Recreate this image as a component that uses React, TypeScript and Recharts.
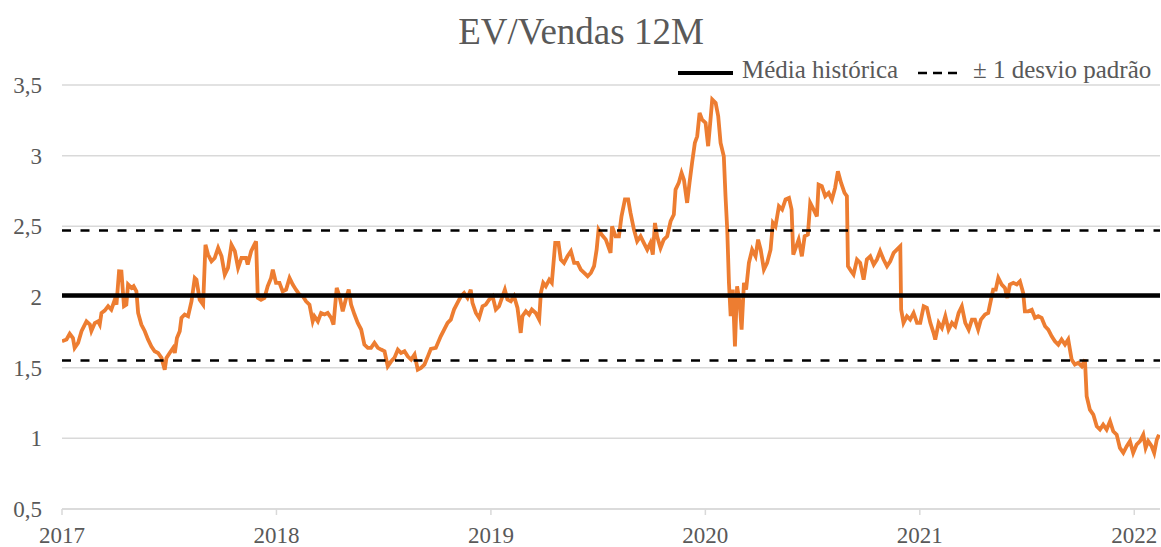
import React from 'react';
import { LineChart, Line, XAxis, YAxis, CartesianGrid, ReferenceLine } from 'recharts';

const anos = [
  2017.000, 2017.021, 2017.036, 2017.051, 2017.059, 2017.075, 2017.091, 2017.114, 2017.130, 2017.137,
  2017.153, 2017.168, 2017.176, 2017.184, 2017.199, 2017.215, 2017.230, 2017.246, 2017.254, 2017.266,
  2017.277, 2017.289, 2017.300, 2017.308, 2017.324, 2017.334, 2017.347, 2017.355, 2017.370, 2017.386,
  2017.401, 2017.417, 2017.432, 2017.448, 2017.464, 2017.479, 2017.487, 2017.502, 2017.518, 2017.526,
  2017.536, 2017.549, 2017.557, 2017.572, 2017.588, 2017.604, 2017.619, 2017.627, 2017.642, 2017.658,
  2017.669, 2017.681, 2017.697, 2017.712, 2017.728, 2017.744, 2017.759, 2017.774, 2017.790, 2017.806,
  2017.821, 2017.837, 2017.858, 2017.866, 2017.882, 2017.897, 2017.905, 2017.913, 2017.928, 2017.944,
  2017.959, 2017.975, 2017.983, 2017.998, 2018.014, 2018.029, 2018.045, 2018.061, 2018.076, 2018.091,
  2018.107, 2018.123, 2018.138, 2018.154, 2018.169, 2018.177, 2018.193, 2018.208, 2018.224, 2018.239,
  2018.255, 2018.266, 2018.281, 2018.294, 2018.309, 2018.325, 2018.337, 2018.348, 2018.364, 2018.379,
  2018.395, 2018.410, 2018.426, 2018.441, 2018.457, 2018.473, 2018.488, 2018.504, 2018.519, 2018.535,
  2018.550, 2018.566, 2018.581, 2018.597, 2018.612, 2018.628, 2018.644, 2018.659, 2018.674, 2018.690,
  2018.706, 2018.720, 2018.743, 2018.766, 2018.782, 2018.798, 2018.813, 2018.828, 2018.844, 2018.860,
  2018.875, 2018.891, 2018.906, 2018.914, 2018.930, 2018.945, 2018.961, 2018.976, 2018.992, 2019.008,
  2019.023, 2019.038, 2019.054, 2019.065, 2019.077, 2019.093, 2019.108, 2019.124, 2019.139, 2019.147,
  2019.163, 2019.178, 2019.191, 2019.209, 2019.225, 2019.233, 2019.244, 2019.256, 2019.272, 2019.284,
  2019.300, 2019.315, 2019.326, 2019.341, 2019.357, 2019.373, 2019.388, 2019.404, 2019.419, 2019.435,
  2019.451, 2019.466, 2019.481, 2019.493, 2019.502, 2019.517, 2019.536, 2019.558, 2019.565, 2019.581,
  2019.597, 2019.609, 2019.625, 2019.640, 2019.651, 2019.667, 2019.682, 2019.698, 2019.713, 2019.729,
  2019.744, 2019.755, 2019.765, 2019.775, 2019.791, 2019.806, 2019.822, 2019.838, 2019.853, 2019.861,
  2019.876, 2019.889, 2019.900, 2019.915, 2019.926, 2019.938, 2019.951, 2019.962, 2019.973, 2019.985,
  2020.001, 2020.013, 2020.024, 2020.032, 2020.048, 2020.060, 2020.071, 2020.086, 2020.094, 2020.102,
  2020.110, 2020.118, 2020.128, 2020.138, 2020.148, 2020.160, 2020.169, 2020.180, 2020.190, 2020.203,
  2020.218, 2020.234, 2020.246, 2020.258, 2020.273, 2020.288, 2020.304, 2020.315, 2020.327, 2020.343,
  2020.358, 2020.374, 2020.390, 2020.402, 2020.410, 2020.435, 2020.450, 2020.463, 2020.478, 2020.489,
  2020.505, 2020.520, 2020.528, 2020.543, 2020.559, 2020.575, 2020.590, 2020.605, 2020.618, 2020.633,
  2020.649, 2020.660, 2020.665, 2020.680, 2020.691, 2020.707, 2020.722, 2020.738, 2020.753, 2020.769,
  2020.785, 2020.800, 2020.815, 2020.831, 2020.847, 2020.862, 2020.878, 2020.893, 2020.909, 2020.913,
  2020.924, 2020.940, 2020.955, 2020.971, 2020.987, 2021.002, 2021.018, 2021.033, 2021.049, 2021.064,
  2021.072, 2021.088, 2021.103, 2021.119, 2021.134, 2021.150, 2021.165, 2021.181, 2021.196, 2021.212,
  2021.228, 2021.243, 2021.257, 2021.272, 2021.285, 2021.304, 2021.319, 2021.332, 2021.342, 2021.354,
  2021.366, 2021.382, 2021.397, 2021.408, 2021.420, 2021.436, 2021.452, 2021.467, 2021.482, 2021.490,
  2021.506, 2021.522, 2021.537, 2021.552, 2021.568, 2021.584, 2021.599, 2021.615, 2021.630, 2021.646,
  2021.661, 2021.677, 2021.692, 2021.708, 2021.723, 2021.739, 2021.755, 2021.770, 2021.778, 2021.793,
  2021.809, 2021.825, 2021.840, 2021.855, 2021.871, 2021.887, 2021.902, 2021.918, 2021.933, 2021.949,
  2021.965, 2021.980, 2021.995, 2022.011, 2022.027, 2022.042, 2022.053, 2022.065, 2022.081, 2022.093,
  2022.105, 2022.115,
];

const evVendas = [
  1.687, 1.700, 1.740, 1.710, 1.640, 1.675, 1.758, 1.828, 1.805, 1.760,
  1.816, 1.828, 1.805, 1.887, 1.904, 1.935, 1.910, 1.980, 1.946, 2.182,
  2.180, 1.935, 1.946, 2.088, 2.064, 2.076, 2.040, 1.887, 1.805, 1.758,
  1.700, 1.650, 1.616, 1.604, 1.569, 1.486, 1.569, 1.604, 1.640, 1.604,
  1.710, 1.758, 1.852, 1.876, 1.864, 1.970, 2.135, 2.123, 1.980, 1.946,
  2.370, 2.300, 2.253, 2.276, 2.347, 2.288, 2.159, 2.206, 2.370, 2.324,
  2.206, 2.276, 2.276, 2.229, 2.324, 2.370, 2.394, 1.993, 1.980, 1.993,
  2.076, 2.135, 2.194, 2.100, 2.100, 2.040, 2.052, 2.135, 2.088, 2.052,
  2.017, 2.005, 1.970, 1.946, 1.828, 1.864, 1.828, 1.887, 1.876, 1.887,
  1.852, 1.805, 2.064, 2.005, 1.899, 1.993, 2.052, 1.946, 1.876, 1.816,
  1.770, 1.663, 1.640, 1.640, 1.675, 1.640, 1.628, 1.616, 1.510, 1.545,
  1.569, 1.628, 1.604, 1.616, 1.580, 1.557, 1.593, 1.486, 1.498, 1.522,
  1.580, 1.633, 1.640, 1.722, 1.769, 1.817, 1.840, 1.911, 1.958, 2.005,
  2.029, 1.993, 2.052, 1.958, 1.887, 1.852, 1.934, 1.946, 1.982, 2.005,
  1.911, 1.934, 2.005, 2.052, 1.982, 1.970, 2.005, 1.923, 1.746, 1.864,
  1.899, 1.876, 1.911, 1.887, 1.840, 2.029, 2.100, 2.076, 2.123, 2.100,
  2.383, 2.383, 2.265, 2.241, 2.288, 2.324, 2.241, 2.241, 2.194, 2.170,
  2.147, 2.170, 2.218, 2.335, 2.477, 2.440, 2.406, 2.312, 2.500, 2.430,
  2.430, 2.571, 2.690, 2.690, 2.595, 2.477, 2.394, 2.430, 2.383, 2.335,
  2.383, 2.300, 2.524, 2.430, 2.347, 2.406, 2.430, 2.536, 2.583, 2.760,
  2.807, 2.878, 2.830, 2.666, 2.807, 2.949, 3.090, 3.137, 3.302, 3.255,
  3.232, 3.067, 3.255, 3.397, 3.373, 3.279, 3.090, 2.996, 2.713, 2.477,
  2.100, 1.864, 2.052, 1.651, 2.076, 1.958, 1.769, 2.100, 2.052, 2.241,
  2.335, 2.288, 2.406, 2.335, 2.194, 2.241, 2.335, 2.524, 2.500, 2.642,
  2.619, 2.690, 2.701, 2.620, 2.300, 2.406, 2.288, 2.430, 2.442, 2.666,
  2.618, 2.571, 2.795, 2.784, 2.713, 2.736, 2.689, 2.772, 2.890, 2.807,
  2.736, 2.713, 2.218, 2.182, 2.159, 2.265, 2.241, 2.123, 2.265, 2.288,
  2.229, 2.265, 2.324, 2.265, 2.218, 2.253, 2.312, 2.335, 2.359, 1.911,
  1.817, 1.864, 1.840, 1.887, 1.817, 1.817, 1.934, 1.923, 1.817, 1.746,
  1.699, 1.817, 1.781, 1.864, 1.769, 1.817, 1.793, 1.887, 1.934, 1.817,
  1.769, 1.840, 1.840, 1.769, 1.840, 1.876, 1.887, 1.982, 2.052, 2.052,
  2.135, 2.088, 2.064, 1.993, 2.088, 2.100, 2.088, 2.111, 2.029, 1.899,
  1.899, 1.909, 1.852, 1.864, 1.852, 1.793, 1.769, 1.722, 1.687, 1.663,
  1.699, 1.663, 1.699, 1.557, 1.522, 1.534, 1.510, 1.557, 1.298, 1.203,
  1.168, 1.085, 1.062, 1.097, 1.062, 1.121, 1.050, 1.026, 0.932, 0.897,
  0.944, 0.980, 0.897, 0.956, 0.980, 1.026, 0.932, 0.980, 0.944, 0.897,
  0.990, 1.026,
];

const mediaHistorica = 2.01;
const desvioPadrao = 0.46;
const yTicks = [0.5, 1, 1.5, 2, 2.5, 3, 3.5];
const xTicks = [2017, 2018, 2019, 2020, 2021, 2022];

const dados = anos.map((ano, i) => ({ ano, valor: evVendas[i] }));

const FONT = "'Liberation Serif', 'Times New Roman', serif";
const TEXT = '#595959';
const GRID = '#d9d9d9';

export default function App() {
  return (
    <div style={{ position: 'relative', width: 1161, height: 547, fontFamily: FONT, background: '#fff' }}>
      <style>{`body{margin:0;background:#fff}`}</style>
      <LineChart
        width={1161}
        height={547}
        data={dados}
        margin={{ top: 85, right: 1, bottom: 8, left: 0 }}
      >
        <CartesianGrid vertical={false} stroke={GRID} strokeWidth={1.5} />
        <XAxis
          dataKey="ano"
          type="number"
          domain={[2017, 2022.12]}
          ticks={xTicks}
          allowDataOverflow
          height={30}
          tickSize={6}
          tickMargin={12}
          stroke={GRID}
          axisLine={{ stroke: GRID, strokeWidth: 1.5 }}
          tickLine={{ stroke: GRID, strokeWidth: 1.5 }}
          tick={{ fill: TEXT, fontSize: 23, fontFamily: FONT }}
          tickFormatter={(v: number) => String(Math.round(v))}
        />
        <YAxis
          type="number"
          domain={[0.5, 3.5]}
          ticks={yTicks}
          width={62}
          axisLine={false}
          tickLine={false}
          tickSize={0}
          tickMargin={20}
          tick={{ fill: TEXT, fontSize: 23, fontFamily: FONT }}
          tickFormatter={(v: number) => String(v).replace('.', ',')}
        />
        <Line
          type="linear"
          dataKey="valor"
          stroke="#ED7D31"
          strokeWidth={3.8}
          dot={false}
          isAnimationActive={false}
        />
        <ReferenceLine y={mediaHistorica} stroke="#000" strokeWidth={4.5} />
        <ReferenceLine y={mediaHistorica + desvioPadrao} stroke="#000" strokeWidth={2.5} strokeDasharray="9 9.5" />
        <ReferenceLine y={mediaHistorica - desvioPadrao} stroke="#000" strokeWidth={2.5} strokeDasharray="9 9.5" />
      </LineChart>
      <svg
        width={1161}
        height={84}
        style={{ position: 'absolute', left: 0, top: 0, pointerEvents: 'none' }}
      >
        <text x={581} y={44} textAnchor="middle" fontSize={37} fill={TEXT} fontFamily={FONT}>
          EV/Vendas 12M
        </text>
        <line x1={678} x2={733} y1={73} y2={73} stroke="#000" strokeWidth={4} />
        <text x={742} y={78} fontSize={25} fill={TEXT} fontFamily={FONT}>
          Média histórica
        </text>
        <line x1={918} x2={958} y1={73} y2={73} stroke="#000" strokeWidth={2.5} strokeDasharray="9 6" />
        <text x={973} y={78} fontSize={25} fill={TEXT} fontFamily={FONT}>
          ± 1 desvio padrão
        </text>
      </svg>
    </div>
  );
}
